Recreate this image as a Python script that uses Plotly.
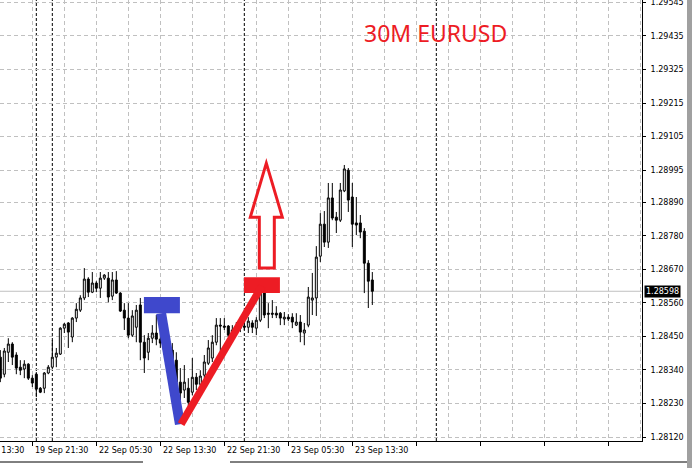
import plotly.graph_objects as go

# ---- data (30-minute EURUSD bars) ----
opens = [1.28382, 1.28326, 1.28398, 1.28425, 1.28389, 1.28349, 1.28343, 1.28359, 1.28313, 1.28326,
         1.28280, 1.28280, 1.28330, 1.28349, 1.28382, 1.28392, 1.28477, 1.28494, 1.28448, 1.28510,
         1.28536, 1.28576, 1.28638, 1.28595, 1.28625, 1.28608, 1.28641, 1.28641, 1.28582, 1.28635,
         1.28592, 1.28536, 1.28510, 1.28454, 1.28480, 1.28553, 1.28431, 1.28398, 1.28444, 1.28461,
         1.28441, 1.28428, 1.28405, 1.28405, 1.28372, 1.28300, 1.28274, 1.28280, 1.28267, 1.28316,
         1.28293, 1.28323, 1.28362, 1.28379, 1.28431, 1.28487, 1.28484, 1.28484, 1.28454, 1.28471,
         1.28477, 1.28484, 1.28480, 1.28494, 1.28477, 1.28503, 1.28592, 1.28526, 1.28526, 1.28526,
         1.28526, 1.28507, 1.28513, 1.28513, 1.28487, 1.28497, 1.28461, 1.28487, 1.28569, 1.28576,
         1.28713, 1.28818, 1.28759, 1.28904, 1.28841, 1.28831, 1.28927, 1.28995, 1.28907, 1.28822,
         1.28822, 1.28795, 1.28690, 1.28635]
highs = [1.28405, 1.28412, 1.28444, 1.28431, 1.28398, 1.28372, 1.28372, 1.28362, 1.28323, 1.28333,
         1.28284, 1.28333, 1.28356, 1.28438, 1.28412, 1.28480, 1.28494, 1.28497, 1.28513, 1.28559,
         1.28585, 1.28674, 1.28644, 1.28661, 1.28631, 1.28661, 1.28654, 1.28661, 1.28661, 1.28664,
         1.28595, 1.28559, 1.28559, 1.28536, 1.28553, 1.28576, 1.28454, 1.28461, 1.28487, 1.28520,
         1.28471, 1.28454, 1.28438, 1.28428, 1.28398, 1.28346, 1.28356, 1.28313, 1.28379, 1.28330,
         1.28339, 1.28389, 1.28438, 1.28454, 1.28510, 1.28510, 1.28510, 1.28487, 1.28487, 1.28497,
         1.28503, 1.28497, 1.28513, 1.28503, 1.28513, 1.28602, 1.28602, 1.28559, 1.28569, 1.28549,
         1.28530, 1.28530, 1.28523, 1.28526, 1.28526, 1.28520, 1.28494, 1.28612, 1.28658, 1.28746,
         1.28854, 1.28861, 1.28953, 1.28953, 1.28858, 1.28953, 1.29012, 1.29002, 1.28953, 1.28907,
         1.28848, 1.28805, 1.28700, 1.28661]
lows = [1.28300, 1.28316, 1.28366, 1.28356, 1.28326, 1.28323, 1.28313, 1.28307, 1.28284, 1.28251,
        1.28264, 1.28264, 1.28326, 1.28346, 1.28349, 1.28389, 1.28461, 1.28412, 1.28431, 1.28497,
        1.28530, 1.28569, 1.28579, 1.28592, 1.28595, 1.28576, 1.28635, 1.28562, 1.28569, 1.28589,
        1.28530, 1.28471, 1.28444, 1.28448, 1.28431, 1.28372, 1.28330, 1.28372, 1.28428, 1.28421,
        1.28412, 1.28389, 1.28372, 1.28356, 1.28280, 1.28241, 1.28248, 1.28221, 1.28257, 1.28274,
        1.28267, 1.28313, 1.28356, 1.28366, 1.28421, 1.28398, 1.28471, 1.28448, 1.28438, 1.28454,
        1.28464, 1.28471, 1.28461, 1.28461, 1.28454, 1.28497, 1.28510, 1.28477, 1.28510, 1.28510,
        1.28487, 1.28487, 1.28500, 1.28477, 1.28484, 1.28431, 1.28421, 1.28480, 1.28520, 1.28517,
        1.28694, 1.28743, 1.28740, 1.28831, 1.28789, 1.28825, 1.28923, 1.28858, 1.28743, 1.28782,
        1.28772, 1.28592, 1.28543, 1.28553]
closes = [1.28313, 1.28402, 1.28425, 1.28382, 1.28346, 1.28339, 1.28359, 1.28313, 1.28297, 1.28277,
          1.28267, 1.28330, 1.28349, 1.28382, 1.28395, 1.28477, 1.28490, 1.28464, 1.28510, 1.28539,
          1.28576, 1.28638, 1.28595, 1.28625, 1.28608, 1.28641, 1.28651, 1.28579, 1.28635, 1.28592,
          1.28533, 1.28510, 1.28454, 1.28517, 1.28536, 1.28431, 1.28379, 1.28444, 1.28461, 1.28441,
          1.28428, 1.28405, 1.28398, 1.28372, 1.28300, 1.28264, 1.28300, 1.28234, 1.28316, 1.28293,
          1.28320, 1.28366, 1.28412, 1.28431, 1.28487, 1.28484, 1.28480, 1.28454, 1.28471, 1.28477,
          1.28480, 1.28480, 1.28500, 1.28480, 1.28503, 1.28595, 1.28520, 1.28523, 1.28523, 1.28520,
          1.28510, 1.28513, 1.28507, 1.28497, 1.28497, 1.28464, 1.28471, 1.28579, 1.28576, 1.28710,
          1.28818, 1.28759, 1.28904, 1.28838, 1.28831, 1.28930, 1.28999, 1.28897, 1.28818, 1.28815,
          1.28792, 1.28690, 1.28631, 1.28598]
bars = list(range(len(opens)))

price_ticks = [1.29545, 1.29435, 1.29325, 1.29215, 1.29105, 1.28995, 1.28890,
               1.28780, 1.28670, 1.28560, 1.28450, 1.28340, 1.28230, 1.28120]
time_labels = ["19 Sep 13:30", "19 Sep 21:30", "22 Sep 05:30", "22 Sep 13:30",
               "22 Sep 21:30", "23 Sep 05:30", "23 Sep 13:30"]
time_label_bars = [-8, 8, 24, 40, 56, 72, 88]
day_separator_bars = [9, 13, 61, 109]
current_price = 1.28598
title_text = "30M EURUSD"

# ---- styles ----
FONT = "DejaVu Sans"
GRID = "#c0c0c0"
RED = "#ed1c24"
BLUE = "#3f48cc"
X_RANGE = [-0.08, 160.42]
Y_RANGE = [1.28107, 1.29553]


def bar_to_paper(b):
    return (b - X_RANGE[0]) / (X_RANGE[1] - X_RANGE[0])


fig = go.Figure()
fig.add_trace(go.Candlestick(
    x=bars, open=opens, high=highs, low=lows, close=closes,
    increasing=dict(line=dict(color="black", width=1), fillcolor="white"),
    decreasing=dict(line=dict(color="black", width=1), fillcolor="black"),
    whiskerwidth=0, hoverinfo="skip", showlegend=False,
))

shapes = []
# current price line
shapes.append(dict(type="line", xref="paper", x0=0, x1=1, yref="y", y0=current_price, y1=current_price,
                   line=dict(color=GRID, width=1), layer="below"))
# day separators
for b in day_separator_bars:
    shapes.append(dict(type="line", xref="x", x0=b, x1=b, yref="paper", y0=0, y1=1,
                       line=dict(color="black", width=1, dash="3px,2px"), layer="below"))
# blue drawing
shapes.append(dict(type="rect", xref="x", yref="y", x0=35.9, x1=44.9, y0=1.28526, y1=1.28579,
                   fillcolor=BLUE, line=dict(width=0)))
shapes.append(dict(type="line", xref="x", yref="y", x0=40.2, y0=1.28526, x1=44.9, y1=1.28162,
                   line=dict(color=BLUE, width=10)))
# red drawing
shapes.append(dict(type="rect", xref="x", yref="y", x0=60.9, x1=69.9, y0=1.28592, y1=1.28644,
                   fillcolor=RED, line=dict(width=0)))
shapes.append(dict(type="line", xref="x", yref="y", x0=45.2, y0=1.28162, x1=65.4, y1=1.28615,
                   line=dict(color=RED, width=7.5)))
shapes.append(dict(type="path", xref="x", yref="y",
                   path="M 64.75,1.28674 L 64.75,1.28841 L 62.5,1.28841 L 66.5,1.29018 "
                        "L 70.5,1.28841 L 68.5,1.28841 L 68.5,1.28674 Z",
                   line=dict(color=RED, width=3)))
# window borders
shapes.append(dict(type="line", xref="paper", yref="paper", x0=0, x1=143 / 642, y0=-21 / 441, y1=-21 / 441,
                   line=dict(color="black", width=1)))
shapes.append(dict(type="line", xref="paper", yref="paper", x0=230 / 642, x1=687 / 642, y0=-21 / 441, y1=-21 / 441,
                   line=dict(color="black", width=1)))
shapes.append(dict(type="rect", xref="paper", yref="paper", x0=687 / 642, x1=692 / 642, y0=-27 / 441, y1=1,
                   fillcolor="#a0a0a0", line=dict(width=0)))

annotations = []
for lab, b in zip(time_labels, time_label_bars):
    annotations.append(dict(text=lab, x=bar_to_paper(b), xref="paper", xanchor="left", xshift=1,
                            y=0, yref="paper", yanchor="top", yshift=-3, showarrow=False,
                            font=dict(family=FONT, size=8, color="black")))
annotations.append(dict(text=f"{current_price:.5f}", x=1, xref="paper", xanchor="left", xshift=2,
                        y=current_price, yref="y", yanchor="middle", showarrow=False,
                        bgcolor="black", borderpad=1,
                        font=dict(family=FONT, size=8, color="white")))
annotations.append(dict(text=title_text, x=362 / 642, xref="paper", xanchor="left",
                        y=1 - 33 / 441, yref="paper", yanchor="middle", showarrow=False,
                        font=dict(family="Noto Sans", size=23, color=RED)))

fig.update_layout(
    width=696, height=468,
    margin=dict(l=0, r=54, t=0, b=27, autoexpand=False),
    paper_bgcolor="white", plot_bgcolor="white",
    showlegend=False,
    shapes=shapes, annotations=annotations,
    xaxis=dict(range=X_RANGE, rangeslider=dict(visible=False),
               tickmode="linear", tick0=8, dtick=16, ticks="outside", ticklen=4, tickcolor="black",
               showticklabels=False, showgrid=True, gridcolor=GRID, griddash="4px,3px", gridwidth=1,
               minor=dict(tick0=0, dtick=8, showgrid=True, gridcolor=GRID, griddash="4px,3px", ticks=""),
               showline=True, linecolor="black", linewidth=1, zeroline=False, fixedrange=True),
    yaxis=dict(range=Y_RANGE, side="right", tickmode="array", tickvals=price_ticks,
               ticktext=[f"{v:.5f}" for v in price_ticks],
               ticks="outside", ticklen=3, tickcolor="black", ticklabelstandoff=3,
               ticklabeloverflow="allow",
               tickfont=dict(family=FONT, size=8, color="black"),
               showgrid=True, gridcolor=GRID, griddash="4px,3px", gridwidth=1,
               showline=True, linecolor="black", linewidth=1, zeroline=False, fixedrange=True),
)

fig.write_html("out.html", config={"displayModeBar": False},
               post_script="document.body.style.margin='0';document.body.style.overflow='hidden';")
